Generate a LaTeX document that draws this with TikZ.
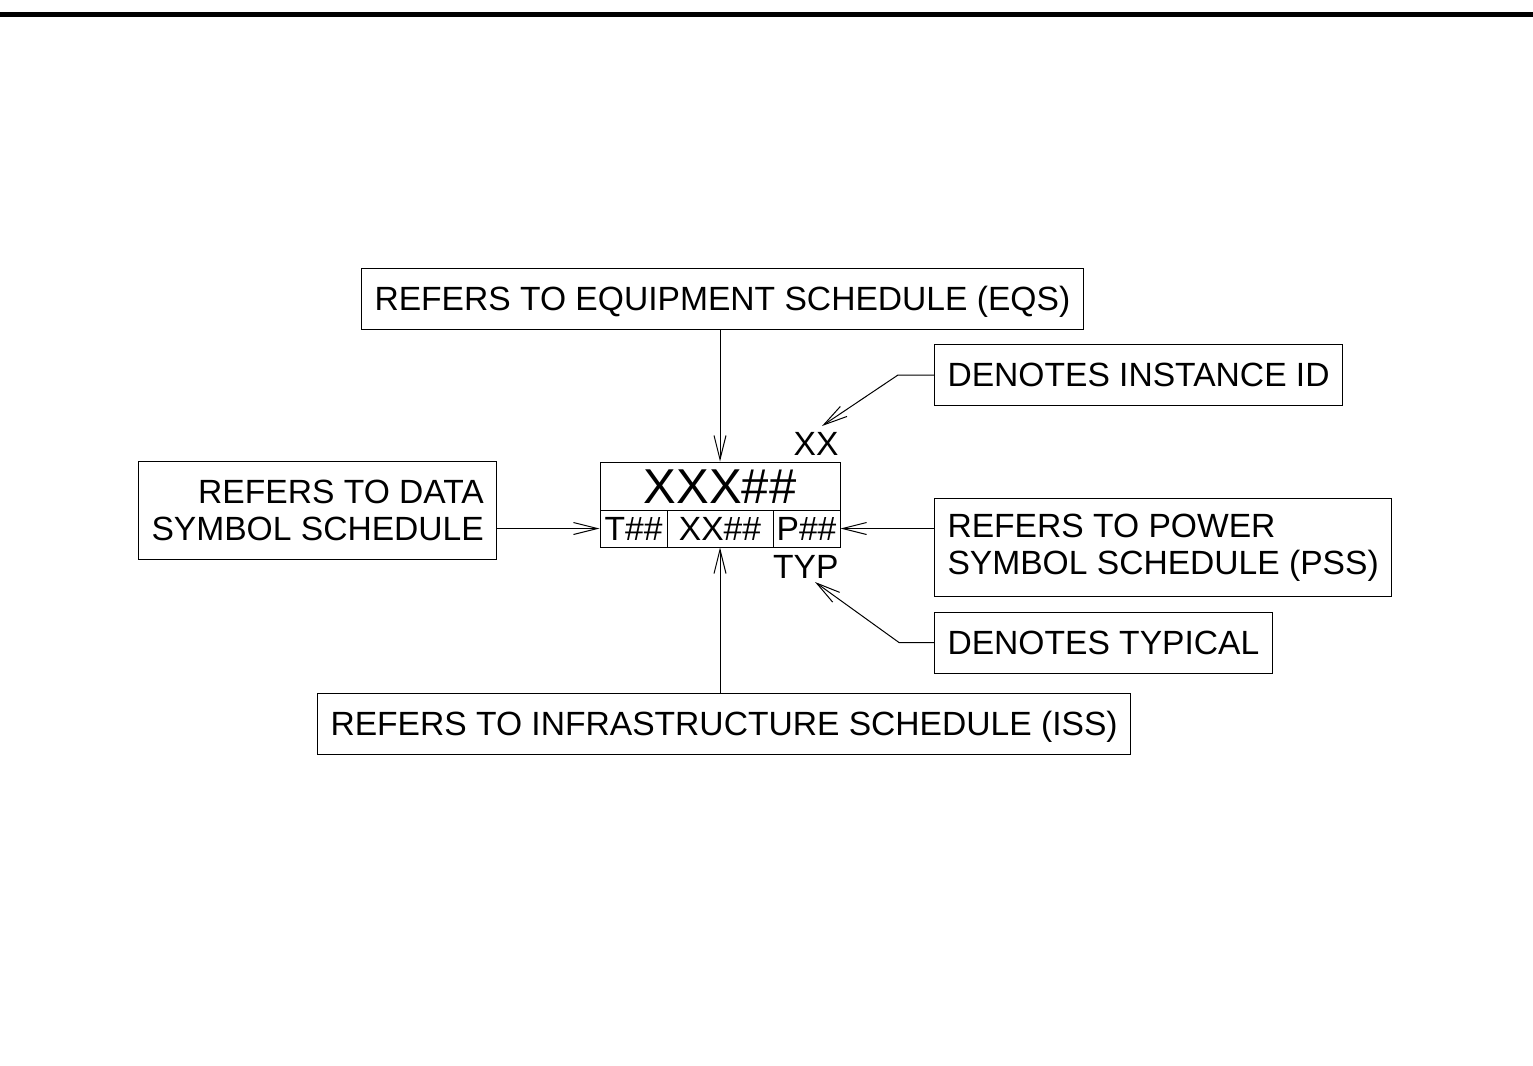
\documentclass[tikz,border=0pt]{standalone}
\usepackage{fontspec}
\setmainfont{Liberation Sans}
\usetikzlibrary{arrows.meta, positioning}

\begin{document}
\begin{tikzpicture}[
						x=0.5pt, y=-0.5pt,
						line width=0.5pt,
						every node/.style={font=\fontsize{16.8}{18.5}\selectfont},
						note/.style={draw, inner xsep=6.5pt, inner ysep=0pt, minimum height=30.5pt, text height=11.5pt, text depth=0pt},
						twoline/.style={draw, inner xsep=6.5pt, inner ysep=0pt, minimum height=49pt},
						cell/.style={draw, inner sep=0pt, minimum height=18.5pt, text height=11.5pt, text depth=0pt},
						lbl/.style={inner sep=0pt, text height=11.5pt, text depth=0pt},
						>={Straight Barb[length=12pt, width=6pt]}
				]
    \useasboundingbox (0,0) rectangle (1533,1066);
    \draw[line width=2.5pt] (0,14.5) -- (1533,14.5);

    % Tag symbol
    \node[cell, minimum width=120pt, minimum height=24pt, font=\fontsize{24.5}{26}\selectfont, text height=17pt] (tag) at (720,486) {XXX\#\#};
    \node[cell, minimum width=33.5pt] (tcell) at (633.5,528.5) {T\#\#};
    \node[cell, minimum width=53pt] (xcell) at (720,528.5) {XX\#\#};
    \node[cell, minimum width=33.5pt] (pcell) at (806.5,528.5) {P\#\#};
    \node[lbl, anchor=east] (instlbl) at (839,444) {XX};
    \node[lbl, anchor=east] (typlbl) at (839,567) {TYP};

    % Notes
    \node[note, anchor=west] (eqs) at (361,298.5) {REFERS TO EQUIPMENT SCHEDULE (EQS)};
    \node[note, anchor=west] (inst) at (934,375) {DENOTES INSTANCE ID};
    \node[twoline, align=right, anchor=west] (data) at (138,510) {REFERS TO DATA\\SYMBOL SCHEDULE};
    \node[twoline, align=left, anchor=west] (power) at (934,547.5) {REFERS TO POWER\\SYMBOL SCHEDULE (PSS)};
    \node[note, anchor=west] (typical) at (934,642.5) {DENOTES TYPICAL};
    \node[note, anchor=west] (iss) at (317,723.5) {REFERS TO INFRASTRUCTURE SCHEDULE (ISS)};

    \coordinate (instknee) at (898,375);
    \coordinate (insttip) at (822,426);
    \coordinate (typknee) at (899,642.5);
    \coordinate (typtip) at (815,582);

    % Leaders
    \draw[->] (eqs.south -| tag.north) -- (tag.north);
    \draw[->] (iss.north -| xcell.south) -- (xcell.south);
    \draw[->] (data.east |- tcell.west) -- (tcell.west);
    \draw[->] (power.west |- pcell.east) -- (pcell.east);
    \draw[->] (inst.west) -- (instknee) -- (insttip);
    \draw[->] (typical.west) -- (typknee) -- (typtip);

  \end{tikzpicture}
\end{document}
